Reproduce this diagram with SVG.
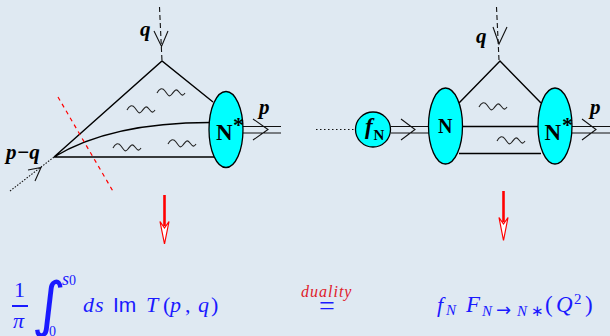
<svg xmlns="http://www.w3.org/2000/svg" width="610" height="336" viewBox="0 0 610 336">
<style>
.l{fill:none;stroke:#000;stroke-width:1.4}
.t{fill:none;stroke:#111;stroke-width:1.1}
.w{fill:none;stroke:#222;stroke-width:1.1}
.b{fill:#00ffff;stroke:#000;stroke-width:1.3}
.k{font-family:"Liberation Serif",serif;font-weight:bold;fill:#000}
.ki{font-family:"Liberation Serif",serif;font-weight:bold;font-style:italic;fill:#000}
.m{font-family:"Liberation Serif",serif;font-style:italic;fill:#1a1aff}
.mr{font-family:"Liberation Serif",serif;fill:#1a1aff}
</style>
<defs>
<path id="wave" d="M0 1C2-3 5-5 8-1S12 6 15 2S19-4 22 0S26 4 28 1" class="w"/>
</defs>
<rect width="610" height="336" fill="#dfe9f2"/>
<g id="connectors">
<path class="l" d="M54 157L162 61L213 102M54 157C95 132 150 122.500 210 122.500M54 157H214"/>
<path class="t" d="M243 126.500H281M243 133H281M253 119L268 129.500L253 140"/>
<path class="t" stroke-dasharray="5 3" d="M159.500 7L162 61"/>
<path class="t" d="M154 31L161.500 46.500L168 31"/>
<path class="t" stroke-dasharray="1.500 1.500" d="M10 191L54 157"/>
<path class="t" d="M28 170L41 167.500L35 181"/>
<path stroke="#f00" fill="none" stroke-width="1.200" stroke-dasharray="4 4" d="M58 97L114 193"/>
<use href="#wave" x="157" y="92"/>
<use href="#wave" x="127" y="109"/>
<use href="#wave" x="113" y="147"/>
<use href="#wave" x="168" y="143"/>
<path class="t" stroke-dasharray="1.500 2.500" d="M316 129.500H355"/>
<path class="t" d="M391 126.500H429M391 133H429M401 119L415 129.500L401 140"/>
<path class="l" d="M461 126.500H538M459 103L500 61L541 103M459 153.500H541"/>
<path class="t" d="M571 126.500H610M571 133H610M582 119L596 129.500L582 140"/>
<path class="t" stroke-dasharray="5 3" d="M496.500 7L499 60"/>
<path class="t" d="M493 27L499 44L507 27"/>
<use href="#wave" x="479" y="106"/>
<use href="#wave" x="497" y="140"/>
</g>
<g id="node-nstar-left"><ellipse class="b" cx="226" cy="129.500" rx="17" ry="38"/><text class="k" x="216" y="140" font-size="23">N</text><text class="k" x="233" y="132" font-size="22" fill="#004545">*</text></g>
<g id="node-fn"><circle class="b" cx="373" cy="129.500" r="17.500"/><text class="ki" x="365" y="134" font-size="23">f</text><text class="k" x="373.500" y="140" font-size="15">N</text></g>
<g id="node-n"><ellipse class="b" cx="445.500" cy="126" rx="17" ry="38"/><text class="k" x="438" y="133" font-size="20">N</text></g>
<g id="node-nstar-right"><ellipse class="b" cx="555" cy="126" rx="17" ry="38"/><text class="k" x="544.500" y="140" font-size="23">N</text><text class="k" x="562" y="132" font-size="22" fill="#004545">*</text></g>
<g id="labels">
<text class="ki" x="140" y="36" font-size="21">q</text>
<text class="ki" x="6" y="159" font-size="21">p−q</text>
<text class="ki" x="259" y="114" font-size="21">p</text>
<text class="ki" x="476" y="43" font-size="21">q</text>
<text class="ki" x="590" y="114" font-size="21">p</text>
</g>
<g id="arrow-left">
<path stroke="#f00" stroke-width="2.600" d="M164.500 195V226"/>
<path fill="#fff" stroke="#f00" stroke-width="1.200" d="M164.500 244L160 221.500L164.500 228L169 221.500Z"/>
</g>
<g id="arrow-right">
<path stroke="#f00" stroke-width="2.600" d="M503.500 191V222"/>
<path fill="#fff" stroke="#f00" stroke-width="1.200" d="M503.500 240.500L499 217.500L503.500 224L508 217.500Z"/>
</g>
<g id="formula-left">
<text class="mr" x="14" y="297" font-size="22">1</text>
<rect x="12" y="305" width="16" height="2" fill="#1a1aff"/>
<text class="m" x="13" y="328" font-size="22">π</text>
<text x="0" y="0" font-size="60" fill="#1a1aff" transform="translate(32 325) skewX(-4)" style="font-family:'DejaVu Sans',sans-serif">∫</text>
<text class="m" x="62" y="285" font-size="18">s</text><text class="mr" x="69" y="285" font-size="14">0</text>
<text class="mr" x="49" y="336" font-size="14">0</text>
<text class="m" x="83" y="312" font-size="22">d</text><text class="m" x="95" y="312" font-size="22">s</text>
<text x="113" y="312" font-size="21" fill="#1a1aff" style="font-family:'Liberation Sans',sans-serif">Im</text>
<text class="m" x="146" y="312" font-size="22">T</text><text class="mr" x="163" y="312" font-size="22">(</text><text class="m" x="170" y="312" font-size="22">p</text><text class="mr" x="185" y="312" font-size="22">,</text><text class="m" x="198" y="312" font-size="22">q</text><text class="mr" x="211" y="312" font-size="22">)</text>
</g>
<g id="formula-mid">
<text x="301" y="297" font-size="16" font-style="italic" fill="#e0202a" style="font-family:'Liberation Serif',serif;letter-spacing:1px">duality</text>
<text class="mr" x="319" y="315" font-size="28">=</text>
</g>
<g id="formula-right">
<text class="m" x="437" y="312" font-size="22">f</text><text class="m" x="446" y="315" font-size="15">N</text>
<text class="m" x="466" y="312" font-size="23">F</text><text class="m" x="482" y="316" font-size="15">N</text>
<text x="496" y="316" font-size="18" fill="#1a1aff" style="font-family:'DejaVu Sans',sans-serif">→</text><text class="m" x="517" y="316" font-size="15">N</text><text class="mr" x="531" y="316" font-size="15">∗</text>
<text class="mr" x="545" y="312" font-size="23">(</text><text class="m" x="556" y="312" font-size="23">Q</text><text class="mr" x="574" y="304" font-size="15">2</text><text class="mr" x="585" y="312" font-size="23">)</text>
</g>
</svg>
